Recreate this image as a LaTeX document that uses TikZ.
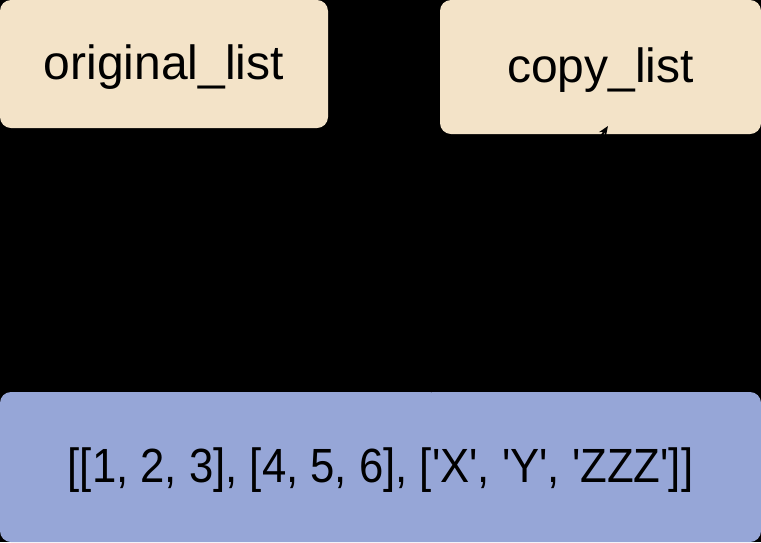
\documentclass[tikz,border=0pt]{standalone}
\usepackage{fontspec}
\newfontfamily\lsans{Liberation Sans}
\usetikzlibrary{arrows.meta}
\definecolor{namebeige}{HTML}{F3E3C8}
\definecolor{objblue}{HTML}{96A6D7}
\begin{document}
\begin{tikzpicture}[x=1pt,y=-1pt,
  box/.style={rounded corners=11pt, inner sep=0pt, text=black,
    text height=34pt, text depth=4pt},
  namebox/.style={box, fill=namebeige, font=\lsans\fontsize{48}{52}\selectfont},
  objbox/.style={box, fill=objblue, font=\lsans\fontsize{48}{52}\selectfont},
  link/.style={draw=black, line width=2pt, -{Stealth[length=10pt,width=8pt]}}]
\useasboundingbox (0,0) rectangle (761,542);
\fill[black] (0,0) rectangle (761,542);
\node[namebox, minimum width=328pt, minimum height=128pt] (orig) at (164,64) {original\_list};
\node[namebox, minimum width=321pt, minimum height=134pt] (copy) at (600.5,67) {copy\_list};
\node[objbox, minimum width=761pt, minimum height=150pt] (lst) at (380.5,467)
  {\scalebox{0.91}[1]{[[1, 2, 3], [4, 5, 6], ['X', 'Y', 'ZZZ']]}};
\coordinate (tip) at (608,126);
\draw[link] (lst) -- (tip);
\end{tikzpicture}
\end{document}
